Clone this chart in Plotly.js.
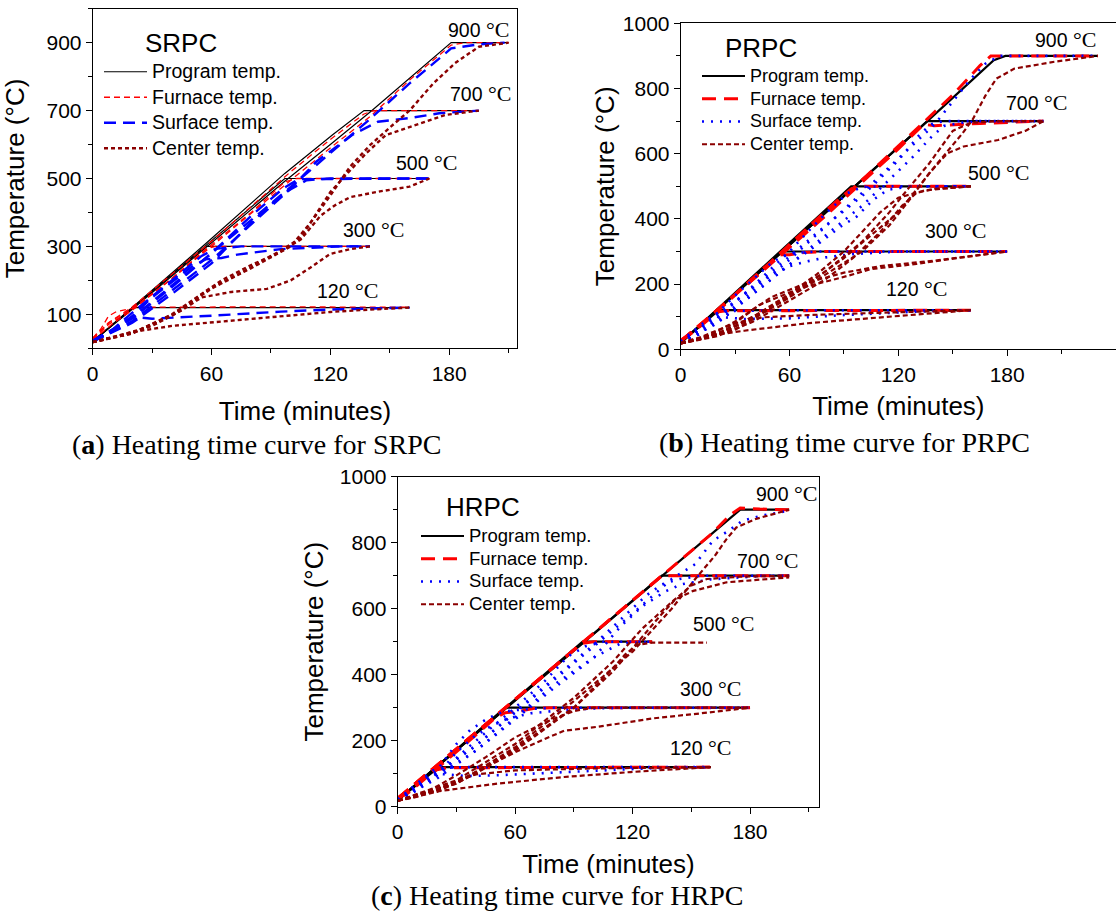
<!DOCTYPE html>
<html>
<head>
<meta charset="utf-8">
<script src="https://cdn.plot.ly/plotly-3.0.1.min.js"></script>
<style>
  html, body { margin: 0; padding: 0; background: #fff; }
  #chart { width: 1116px; height: 913px; }
</style>
</head>
<body>
<div id="chart"></div>
<script>
// Heating time curves (time in minutes, temperature in °C) for three concrete types.
// Each curve is a list of [time, temperature] points; one curve per target temperature.

const targetLabels = ['120', '300', '500', '700', '900'];
const seriesNames = ['Program temp.', 'Furnace temp.', 'Surface temp.', 'Center temp.'];

// ---------- SRPC ----------
const srpcProgram = [
  [[0,20],[20,120],[160,120]],
  [[0,20],[57,300],[140,300]],
  [[0,20],[57,302],[97,500],[170,500]],
  [[0,20],[20,120],[57,308],[97,515],[121,628],[137,700],[195,700]],
  [[0,20],[20,115],[57,296],[97,492],[120,600],[141,700],[181,900],[210,900]]
];
const srpcFurnace = [
  [[0,30],[4,56],[8,95],[12,108],[20,118],[24,121],[90,122],[160,121]],
  [[0,28],[8,75],[20,118],[40,205],[57,292],[62,300],[140,300]],
  [[0,26],[8,70],[20,115],[40,205],[60,305],[80,400],[97,490],[103,500],[170,500]],
  [[0,30],[8,75],[20,122],[60,315],[100,520],[120,615],[137,690],[142,700],[195,700]],
  [[0,24],[10,72],[20,112],[60,300],[100,495],[120,590],[140,682],[160,790],[181,893],[188,900],[210,900]]
];
const srpcSurface = [
  [[0,20],[8,45],[15,75],[20,92],[25,90],[30,87],[60,96],[95,108],[120,114],[160,120]],
  [[0,20],[10,50],[20,95],[30,150],[40,195],[50,240],[57,262],[65,266],[73,276],[95,292],[125,300],[140,300]],
  [[0,22],[10,55],[20,105],[40,200],[55,272],[62,293],[75,300],[140,300]],
  [[0,20],[20,75],[40,160],[60,250],[80,370],[96,455],[108,495],[120,500],[170,500]],
  [[0,22],[20,88],[40,180],[60,280],[80,390],[96,470],[104,498],[170,500]],
  [[0,20],[20,80],[60,260],[100,470],[113,550],[131,628],[144,667],[160,678],[175,692],[195,700]],
  [[0,20],[20,90],[60,280],[100,475],[140,675],[160,780],[181,883],[195,895],[208,900]]
];
const srpcCenter = [
  [[0,18],[10,32],[20,48],[40,66],[60,76],[80,88],[100,97],[120,107],[140,114],[160,120]],
  [[0,18],[15,40],[30,66],[45,112],[55,150],[70,166],[88,175],[100,200],[110,238],[120,278],[130,292],[140,300]],
  [[0,18],[20,45],[40,100],[55,160],[65,200],[80,245],[95,285],[105,320],[115,390],[122,420],[130,445],[145,462],[160,476],[170,500]],
  [[0,18],[20,44],[40,98],[60,178],[80,238],[95,288],[105,325],[112,387],[120,460],[127,505],[138,574],[148,628],[160,652],[178,687],[195,700]],
  [[0,18],[20,44],[40,96],[60,176],[80,236],[100,300],[110,370],[120,450],[130,535],[140,598],[150,650],[160,700],[172,780],[183,840],[195,888],[210,900]]
];
const srpcLabelPos = [[128.5,169],[141.6,351],[168.4,546],[196,749],[195,940]];

// ---------- PRPC ----------
const prpcProgram = [
  [[0,20],[21,120],[160,120]],
  [[0,20],[56,300],[180,300]],
  [[0,20],[94,500],[160,500]],
  [[0,20],[136,700],[200,700]],
  [[0,20],[136,700],[172.6,887],[179,900],[230,900]]
];
const prpcFurnace = [
  [[0,28],[5,45],[15,90],[21,115],[25,118],[160,120]],
  [[0,25],[20,115],[45,245],[55,290],[60,290],[68,297],[80,300],[180,300]],
  [[0,25],[20,118],[50,270],[85,450],[94,492],[100,500],[160,500]],
  [[0,25],[40,215],[80,410],[120,615],[134,690],[140,686],[165,693],[200,700]],
  [[0,25],[40,215],[80,415],[120,625],[150,780],[165,870],[171,900],[230,900]]
];
const prpcSurface = [
  [[0,20],[5,35],[10,60],[15,85],[20,100],[25,97],[35,93],[60,95],[90,105],[128,115],[160,120]],
  [[0,25],[10,70],[18,105],[22,115],[30,118],[60,120],[160,120]],
  [[0,20],[10,45],[20,95],[30,145],[40,190],[50,230],[60,255],[70,270],[80,282],[95,292],[120,300],[180,300]],
  [[0,22],[10,60],[20,110],[30,165],[40,215],[50,265],[56,285],[62,295],[75,300],[180,300]],
  [[0,20],[20,80],[40,170],[60,260],[75,320],[88,376],[97,407],[106,458],[114,489],[125,499],[160,500]],
  [[0,20],[20,95],[40,195],[60,300],[70,360],[80,417],[92,479],[100,498],[110,500],[160,500]],
  [[0,20],[20,80],[40,170],[60,260],[80,350],[100,440],[115,520],[128,590],[138,650],[145,685],[155,695],[165,700],[200,700]],
  [[0,20],[40,190],[80,380],[100,470],[120,580],[132,660],[138,690],[145,700],[200,700]],
  [[0,20],[20,85],[60,275],[100,480],[140,690],[150,760],[160,830],[168,876],[176,900],[230,900]]
];
const prpcCenter = [
  [[0,20],[5,28],[20,45],[35,57],[70,80],[105,96],[136,108],[160,120]],
  [[0,20],[10,35],[20,58],[30,80],[45,98],[70,105],[110,112],[160,120]],
  [[0,18],[10,30],[25,60],[43,135],[66,188],[88,219],[105,246],[130,262],[150,278],[180,300]],
  [[0,18],[15,40],[30,85],[50,160],[70,205],[90,235],[110,255],[140,272],[180,300]],
  [[0,18],[20,45],[40,100],[60,170],[75,230],[90,300],[100,360],[110,420],[120,465],[135,488],[160,500]],
  [[0,18],[20,40],[40,85],[60,150],[80,215],[95,280],[110,360],[122,440],[130,480],[140,492],[160,500]],
  [[0,18],[20,45],[40,95],[60,160],[80,230],[100,300],[115,380],[125,450],[137,540],[147,601],[156,622],[175,642],[190,670],[200,700]],
  [[0,18],[20,42],[50,130],[80,240],[100,330],[115,420],[125,490],[137,570],[150,670],[160,695],[175,700],[200,700]],
  [[0,18],[30,60],[60,160],[90,280],[120,420],[140,560],[155,660],[161,705],[168,778],[174,830],[184,861],[206,882],[230,900]]
];
const prpcLabelPos = [[130,185],[151.3,363],[175,541],[196,758],[212.2,949]];

// ---------- HRPC ----------
const hrpcProgram = [
  [[0,20],[21,120],[160,120]],
  [[0,20],[55,300],[180,300]],
  [[0,20],[94.5,500],[130,500]],
  [[0,20],[135,700],[200,700]],
  [[0,20],[175,900],[200,900]]
];
const hrpcFurnace = [
  [[0,25],[5,40],[10,65],[15,90],[20,112],[25,118],[160,120]],
  [[0,25],[20,115],[40,218],[50,270],[55,285],[61,288],[70,298],[80,300],[180,300]],
  [[0,25],[40,225],[80,425],[94,495],[100,500],[130,500]],
  [[0,25],[40,225],[80,425],[120,625],[135,700],[200,700]],
  [[0,25],[40,225],[80,425],[120,625],[160,825],[170,885],[175,905],[185,902],[200,900]]
];
const hrpcSurface = [
  [[0,20],[5,35],[10,60],[15,90],[20,100],[25,98],[35,93],[50,95],[76,102],[102,110],[127,116],[160,120]],
  [[0,22],[10,70],[18,110],[24,118],[35,120],[160,120]],
  [[0,20],[10,50],[20,95],[30,165],[39,212],[47,242],[56,267],[68,283],[85,293],[102,298],[120,300],[180,300]],
  [[0,22],[10,60],[20,110],[30,190],[37,232],[46,268],[54,288],[64,295],[80,300],[180,300]],
  [[0,20],[20,85],[40,170],[60,270],[80,370],[91,415],[101,455],[114,495],[125,500],[130,500]],
  [[0,20],[20,95],[40,200],[60,300],[75,380],[87,455],[96,486],[105,500],[130,500]],
  [[0,20],[40,170],[80,360],[100,450],[114,547],[125,608],[137,653],[145,674],[160,689],[186,699],[200,700]],
  [[0,20],[40,185],[80,390],[100,490],[118,590],[127,640],[135,674],[144,690],[155,700],[200,700]],
  [[0,20],[40,185],[80,385],[120,585],[140,690],[152,735],[161,806],[169,836],[176,866],[186,882],[200,897]]
];
const hrpcCenter = [
  [[0,18],[17,44],[51,70],[85,90],[119,105],[160,120]],
  [[0,18],[10,30],[20,52],[30,78],[40,98],[60,110],[100,116],[160,120]],
  [[0,18],[15,40],[30,75],[45,120],[60,165],[75,205],[85,230],[102,242],[131,268],[155,283],[180,300]],
  [[0,18],[15,45],[30,95],[45,150],[60,210],[75,255],[90,290],[100,300],[180,300]],
  [[0,18],[20,45],[40,100],[60,175],[80,260],[90,300],[100,360],[110,420],[116,460],[122,490],[130,497],[158,497]],
  [[0,18],[30,70],[60,170],[90,300],[110,410],[125,517],[134,578],[142,629],[151,654],[168,680],[200,695]],
  [[0,18],[30,80],[60,190],[90,330],[110,440],[125,540],[140,620],[150,670],[158,690],[175,697],[200,700]],
  [[0,18],[30,70],[60,180],[90,320],[120,470],[140,600],[152,690],[162,760],[168,811],[173,846],[183,872],[200,900]]
];
const hrpcLabelPos = [[154.7,178],[160,357],[166.7,554],[188.7,745],[198.4,948]];

// ---------- styling ----------
const SANS = 'Liberation Sans, Arial, sans-serif';
const SERIF = 'Liberation Serif, Times New Roman, serif';
const DARKRED = '#8B0000';

const styleThin = [
  {color: '#000000', width: 1.2},
  {color: '#FF0000', width: 1.3, dash: '6px,4px'},
  {color: '#0000FF', width: 2.4, dash: '12px,7px'},
  {color: DARKRED, width: 2.4, dash: '4px,3px'}
];
const styleBold = [
  {color: '#000000', width: 2.2},
  {color: '#FF0000', width: 3, dash: '14px,8px'},
  {color: '#0000FF', width: 2.6, dash: '2px,7px'},
  {color: DARKRED, width: 2.2, dash: '5px,3px'}
];

const traces = [];
function addCurves(curves, xa, ya, line, name, legendId, textSize) {
  curves.forEach((c, i) => {
    traces.push({
      type: 'scatter', mode: 'lines',
      x: c.map(p => p[0]), y: c.map(p => p[1]),
      xaxis: xa, yaxis: ya, line: line,
      name: '<span style="font-size:' + textSize + 'px">' + name + '</span>',
      legend: legendId, showlegend: i === 0, hoverinfo: 'skip'
    });
  });
}

const panels = [
  {data: [srpcProgram, srpcFurnace, srpcSurface, srpcCenter], xa: 'x', ya: 'y', legend: 'legend', style: styleThin, size: 19.5},
  {data: [prpcProgram, prpcFurnace, prpcSurface, prpcCenter], xa: 'x2', ya: 'y2', legend: 'legend2', style: styleBold, size: 18},
  {data: [hrpcProgram, hrpcFurnace, hrpcSurface, hrpcCenter], xa: 'x3', ya: 'y3', legend: 'legend3', style: styleBold, size: 18.5}
];
panels.forEach(p => {
  p.data.forEach((curves, k) => addCurves(curves, p.xa, p.ya, p.style[k], seriesNames[k], p.legend, p.size));
});

// ---------- layout ----------
const W = 1116, H = 913;
const px = v => v / W;
const py = v => 1 - v / H;

function xAxis(left, right, maxT, standoff, anchor) {
  return {
    domain: [px(left), px(right)], range: [0, maxT], anchor: anchor,
    tickmode: 'linear', tick0: 0, dtick: 60,
    ticks: 'outside', ticklen: 6, tickwidth: 1, tickcolor: '#000',
    minor: {dtick: 30, tick0: 0, ticks: 'outside', ticklen: 4, tickcolor: '#000'},
    showline: true, linecolor: '#000', linewidth: 1, mirror: true,
    showgrid: false, zeroline: false,
    tickfont: {family: SANS, size: 21, color: '#000'},
    title: {text: 'Time (minutes)', font: {family: SANS, size: 26, color: '#000'}, standoff: standoff},
    automargin: false
  };
}
function yAxis(bottom, top, tick0, mirror, standoff, anchor) {
  return {
    domain: [py(bottom), py(top)], range: [0, 1000], anchor: anchor,
    tickmode: 'linear', tick0: tick0, dtick: 200,
    ticks: 'outside', ticklen: 6, tickwidth: 1, tickcolor: '#000',
    minor: {dtick: 100, tick0: 0, ticks: 'outside', ticklen: 4, tickcolor: '#000'},
    showline: true, linecolor: '#000', linewidth: 1, mirror: mirror,
    showgrid: false, zeroline: false,
    tickfont: {family: SANS, size: 21, color: '#000'},
    title: {text: 'Temperature (°C)', font: {family: SANS, size: 26, color: '#000'}, standoff: standoff},
    automargin: false
  };
}
// Row pitch of a legend follows its base font size; item text is sized separately.
function legendAt(left, top, rowFont) {
  return {
    x: px(left), y: py(top), xanchor: 'left', yanchor: 'top',
    bgcolor: 'rgba(0,0,0,0)', borderwidth: 0, itemwidth: 43,
    font: {family: SANS, size: rowFont, color: '#000'}, tracegroupgap: 0
  };
}

const annotations = [];
function tempLabels(pos, xref, yref) {
  pos.forEach((p, i) => {
    annotations.push({
      x: p[0], y: p[1], xref: xref, yref: yref, showarrow: false,
      xanchor: 'center', yanchor: 'middle',
      text: targetLabels[i] + ' <span style="font-family:\'Liberation Serif\',serif;font-size:22px">°C</span>',
      font: {family: SANS, size: 19.5, color: '#000'}
    });
  });
}
tempLabels(srpcLabelPos, 'x', 'y');
tempLabels(prpcLabelPos, 'x2', 'y2');
tempLabels(hrpcLabelPos, 'x3', 'y3');

[['SRPC', 181, 43], ['PRPC', 761, 48], ['HRPC', 483, 507]].forEach(t => {
  annotations.push({x: px(t[1]), y: py(t[2]), xref: 'paper', yref: 'paper', showarrow: false,
    xanchor: 'center', yanchor: 'middle',
    text: t[0], font: {family: SANS, size: 26, color: '#000'}});
});
[['a', 'SRPC', 256, 445], ['b', 'PRPC', 844, 442], ['c', 'HRPC', 557, 895]].forEach(t => {
  annotations.push({x: px(t[2]), y: py(t[3]), xref: 'paper', yref: 'paper', showarrow: false,
    xanchor: 'center', yanchor: 'middle',
    text: '(<b>' + t[0] + '</b>) Heating time curve for ' + t[1],
    font: {family: SERIF, size: 28, color: '#000'}});
});

const layout = {
  width: W, height: H, autosize: false,
  margin: {l: 0, r: 0, t: 0, b: 0},
  paper_bgcolor: '#fff', plot_bgcolor: 'rgba(0,0,0,0)',
  font: {family: SANS, color: '#000'},
  xaxis: xAxis(92.7, 517.3, 214.4, 18, 'y'),
  yaxis: yAxis(348.3, 8.7, 100, true, 14, 'x'),
  xaxis2: xAxis(680.7, 1116, 240, 12, 'y2'),
  yaxis2: yAxis(349.3, 23.3, 0, false, 0, 'x2'),
  xaxis3: xAxis(397.7, 819.3, 215.4, 12, 'y3'),
  yaxis3: yAxis(806.7, 476.7, 0, true, 8, 'x3'),
  legend: legendAt(99, 54, 17.3),
  legend2: legendAt(697, 59.6, 15.2),
  legend3: legendAt(416, 519.6, 15.2),
  showlegend: true,
  annotations: annotations
};

Plotly.newPlot('chart', traces, layout, {staticPlot: true, displayModeBar: false});
</script>
</body>
</html>
